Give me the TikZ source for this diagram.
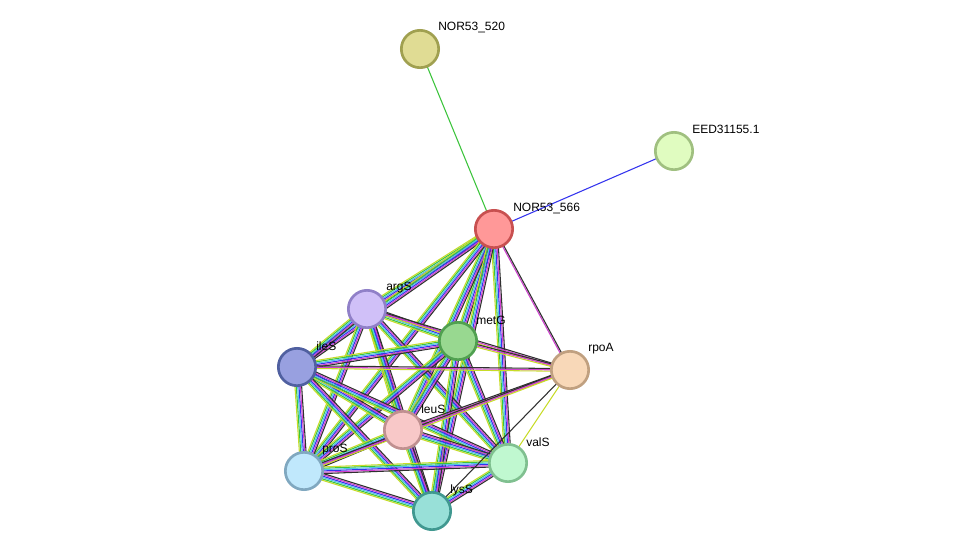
\documentclass[tikz,border=0pt]{standalone}
\usepackage{fontspec}
\setmainfont{Liberation Sans}
\usetikzlibrary{calc}
\definecolor{eg}{HTML}{3CC43C}
\definecolor{eb}{HTML}{3434EE}
\definecolor{ec}{HTML}{50C4E8}
\definecolor{em}{HTML}{D040D0}
\definecolor{ek}{HTML}{303030}
\definecolor{ey}{HTML}{C8DC28}
\definecolor{f520}{HTML}{E0DC94}\definecolor{d520}{HTML}{A0A050}
\definecolor{feed}{HTML}{E0FCC0}\definecolor{deed}{HTML}{A0C080}
\definecolor{f566}{HTML}{FF9898}\definecolor{d566}{HTML}{C85050}
\definecolor{farg}{HTML}{D0C0F8}\definecolor{darg}{HTML}{9080C8}
\definecolor{fmet}{HTML}{98D890}\definecolor{dmet}{HTML}{50A050}
\definecolor{file}{HTML}{98A0E0}\definecolor{dile}{HTML}{5060A0}
\definecolor{frpo}{HTML}{F8D8B8}\definecolor{drpo}{HTML}{C0A080}
\definecolor{fleu}{HTML}{F8C8C8}\definecolor{dleu}{HTML}{C09090}
\definecolor{fval}{HTML}{C0F8D0}\definecolor{dval}{HTML}{80C090}
\definecolor{fpro}{HTML}{C0E8FC}\definecolor{dpro}{HTML}{80A8C0}
\definecolor{flys}{HTML}{98E0D8}\definecolor{dlys}{HTML}{409890}
\newcommand\bund[4]{%
  \foreach \c [count=\i] in {#4} {%
    \pgfmathsetmacro\off{(\i-(#3+1)/2)*1.0}%
    \draw[line width=0.8pt,\c] ($(#1)!\off pt!90:(#2)$) -- ($(#2)!\off pt!-90:(#1)$);
  }}
\begin{document}
\begin{tikzpicture}[x=0.75pt,y=-0.75pt,
  prot/.style={circle,draw,line width=2pt,minimum size=28pt,inner sep=0pt},
  lab/.style={anchor=west,font=\fontsize{9}{11}\selectfont,inner sep=0pt}]
\useasboundingbox (0,0) rectangle (976,557);
\fill[white] (0,0) rectangle (976,557);
\coordinate (n520) at (420,49);
\coordinate (eed) at (674,151);
\coordinate (n566) at (494,229);
\coordinate (argS) at (367,309);
\coordinate (metG) at (458,341);
\coordinate (ileS) at (297,367);
\coordinate (rpoA) at (570,370);
\coordinate (leuS) at (403,430);
\coordinate (valS) at (508,463);
\coordinate (proS) at (304,471);
\coordinate (lysS) at (432,511);
% edges
\bund{n520}{n566}{1}{eg}
\bund{eed}{n566}{1}{eb}
\foreach \a/\b in {n566/argS,n566/metG,n566/ileS,n566/leuS,n566/valS,n566/proS,n566/lysS,
  argS/metG,argS/ileS,argS/leuS,argS/valS,argS/proS,argS/lysS,
  metG/ileS,metG/leuS,metG/valS,metG/proS,metG/lysS,
  ileS/leuS,ileS/valS,ileS/proS,ileS/lysS,
  leuS/valS,leuS/proS,leuS/lysS,valS/proS,valS/lysS,proS/lysS}
  {\bund{\a}{\b}{6}{ey,eg,ec,eb,em,ek}}
\bund{n566}{rpoA}{2}{em,ek}
\foreach \a in {argS,metG,ileS,leuS,proS}{\bund{\a}{rpoA}{3}{ey,em,ek}}
\bund{valS}{rpoA}{1}{ey}
\bund{lysS}{rpoA}{1}{ek}
% nodes
\node[prot,fill=f520,draw=d520] (N520) at (n520) {};
\node[prot,fill=feed,draw=deed] (EED) at (eed) {};
\node[prot,fill=f566,draw=d566] (N566) at (n566) {};
\node[prot,fill=farg,draw=darg] (ARG) at (argS) {};
\node[prot,fill=fmet,draw=dmet] (MET) at (metG) {};
\node[prot,fill=file,draw=dile] (ILE) at (ileS) {};
\node[prot,fill=frpo,draw=drpo] (RPO) at (rpoA) {};
\node[prot,fill=fleu,draw=dleu] (LEU) at (leuS) {};
\node[prot,fill=fval,draw=dval] (VAL) at (valS) {};
\node[prot,fill=fpro,draw=dpro] (PRO) at (proS) {};
\node[prot,fill=flys,draw=dlys] (LYS) at (lysS) {};
% labels
\node[lab] (l520) at (438,28) {NOR53\_520};
\node[lab] (leed) at (692,129) {EED31155.1};
\node[lab] (l566) at (513,208) {NOR53\_566};
\node[lab] (larg) at (386,288) {argS};
\node[lab] (lmet) at (476,320) {metG};
\node[lab] (lile) at (316,346) {ileS};
\node[lab] (lrpo) at (588,349) {rpoA};
\node[lab] (lleu) at (421,409) {leuS};
\node[lab] (lval) at (526,442) {valS};
\node[lab] (lpro) at (322,450) {proS};
\node[lab] (llys) at (450,490) {lysS};
\end{tikzpicture}
\end{document}
